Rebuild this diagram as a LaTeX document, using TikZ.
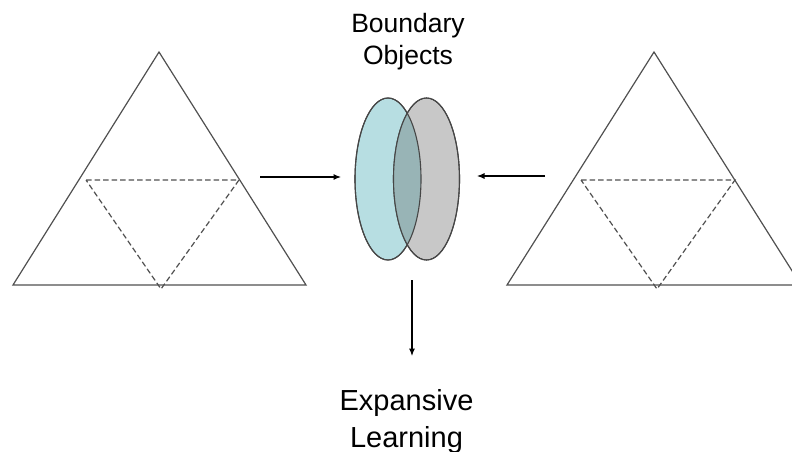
\documentclass[tikz,border=0pt]{standalone}
\usepackage{fontspec}
\setmainfont{Liberation Sans}
\usetikzlibrary{shapes.geometric,arrows.meta}
\definecolor{cyanfill}{RGB}{183,222,226}
\definecolor{grayfill}{RGB}{200,200,200}
\definecolor{overlapfill}{RGB}{152,180,182}
\definecolor{edge}{RGB}{70,70,70}
\definecolor{triline}{RGB}{80,80,80}
\tikzset{
  tri/.style={draw=triline, line width=1.2pt, line join=miter},
  dashtri/.style={draw=triline, line width=1.2pt, dash pattern=on 5.5pt off 3pt},
  conn/.style={draw=black, line width=1.1pt, -{Latex[length=7.5pt,width=6pt]}},
  lbl/.style={align=center, inner sep=0pt},
  venn/.style={ellipse, minimum width=66pt, minimum height=162pt, inner sep=0pt, draw=edge, line width=1.1pt}
}
\begin{document}
\begin{tikzpicture}[x=1pt,y=-1pt]
\useasboundingbox (0,0) rectangle (792,452);
\clip (0,0) rectangle (792,452);
% left triangle
\coordinate (LA) at (159,52);
\coordinate (LB) at (13,285);
\coordinate (LC) at (306,285);
\draw[tri] (LA) -- (LB) -- (LC) -- cycle;
\coordinate (LD1) at (86,180);
\coordinate (LD2) at (239,180);
\coordinate (LD3) at (161,289);
\draw[dashtri] (LD1) -- (LD2) -- (LD3) -- cycle;
% right triangle
\coordinate (RA) at (654,52);
\coordinate (RB) at (507,285);
\coordinate (RC) at (801,285);
\draw[tri] (RA) -- (RB) -- (RC) -- cycle;
\coordinate (RD1) at (581,180);
\coordinate (RD2) at (735,180);
\coordinate (RD3) at (657,289);
\draw[dashtri] (RD1) -- (RD2) -- (RD3) -- cycle;
% ellipses
\node[venn, fill=cyanfill] (E1) at (388,179) {};
\node[venn, fill=grayfill] (E2) at (426.5,179) {};
\begin{scope}
  \clip (388,179) ellipse [x radius=33pt, y radius=81pt];
  \fill[overlapfill] (426.5,179) ellipse [x radius=33pt, y radius=81pt];
\end{scope}
\draw[draw=edge, line width=1.1pt] (388,179) ellipse [x radius=33pt, y radius=81pt];
\draw[draw=edge, line width=1.1pt] (426.5,179) ellipse [x radius=33pt, y radius=81pt];
% labels
\node[lbl, font=\fontsize{26.5}{32}\selectfont] (BO) at (408,42) {Boundary\\Objects};
\node[lbl, font=\fontsize{29}{37}\selectfont] (EL) at (406.5,421) {Expansive\\Learning};
% connectors
\coordinate (a1s) at (260,177);
\coordinate (a1e) at (341,177);
\coordinate (a2s) at (545,176);
\coordinate (a2e) at (477,176);
\coordinate (a3s) at (412,280);
\coordinate (a3e) at (412,356);
\draw[conn] (a1s) -- (a1e);
\draw[conn] (a2s) -- (a2e);
\draw[conn] (a3s) -- (a3e);
\end{tikzpicture}
\end{document}
